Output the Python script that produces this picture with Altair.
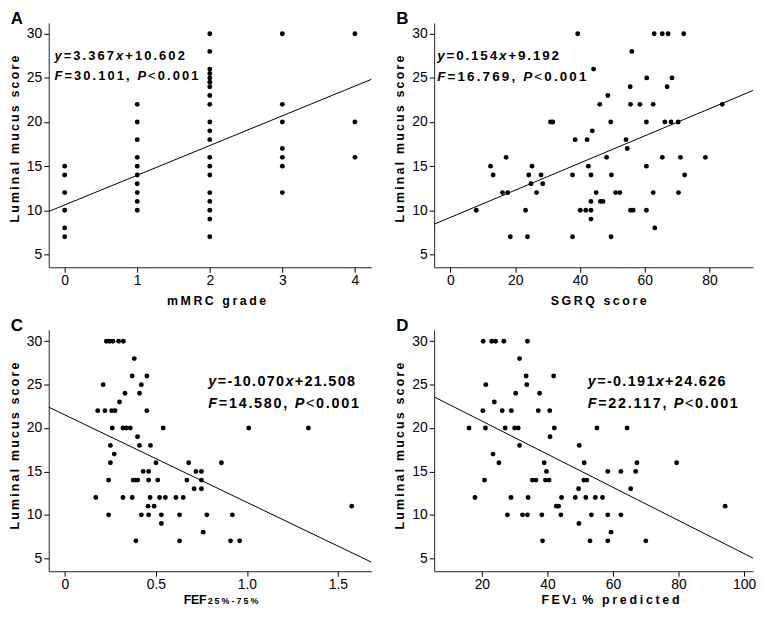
import altair as alt
import pandas as pd

FONT = "Liberation Sans"

# ---------------- data ----------------
# Panel A: luminal mucus score for each mMRC grade
mmrc_grades = [0, 1, 2, 3, 4]
mmrc_scores = [
    [15, 14, 12, 10, 8, 7],
    [22, 20, 18, 16, 15, 14, 13, 12, 11, 10],
    [30, 28, 26, 25.5, 25, 24.5, 24, 23, 22, 20, 19, 18, 16, 15, 14, 12, 11, 10, 9, 7],
    [30, 22, 20, 17, 16, 15, 12],
    [30, 20, 16],
]

# Luminal mucus score levels used by panels B, C and D
mucus_levels = [30, 28, 26, 25, 24, 23, 22, 20, 19, 18, 17, 16, 15, 14, 13, 12, 11, 10, 9, 8, 7]

# Panel B: SGRQ score values at each mucus level
sgrq_values = [
    [39.3, 62.9, 65.4, 67.2, 72.0],
    [56.0],
    [44.2],
    [60.6, 68.4],
    [55.5, 66.9],
    [48.6],
    [46.1, 55.6, 58.5, 62.6, 83.9],
    [30.9, 31.6, 49.5, 60.5, 66.2, 68.1, 70.3],
    [43.8],
    [38.5, 42.2, 54.2],
    [54.6],
    [17.2, 48.2, 65.4, 71.0, 78.7],
    [12.4, 25.2, 42.6, 60.5],
    [13.2, 24.2, 28.0, 37.7, 43.4, 49.7, 72.3],
    [24.9, 28.5],
    [16.1, 17.7, 26.6, 45.0, 51.0, 52.3, 62.6, 70.4],
    [43.4, 46.3, 47.1],
    [8.0, 23.2, 40.1, 41.8, 43.4, 55.6, 56.4, 60.5],
    [43.4],
    [63.1],
    [18.5, 23.8, 37.7, 49.6],
]

# Panel C: FEF25%-75% values at each mucus level
fef_values = [
    [0.228, 0.246, 0.264, 0.295, 0.321],
    [0.381],
    [0.37, 0.45],
    [0.21, 0.42],
    [0.33, 0.41],
    [0.30],
    [0.18, 0.22, 0.257, 0.275, 0.45],
    [0.26, 0.319, 0.337, 0.359, 0.54, 1.01, 1.338],
    [0.399],
    [0.25, 0.41, 0.47],
    [0.271],
    [0.25, 0.50, 0.68, 0.86],
    [0.43, 0.46, 0.72, 0.75],
    [0.24, 0.375, 0.388, 0.40, 0.46, 0.51, 0.67, 0.75],
    [0.71, 0.75],
    [0.17, 0.319, 0.37, 0.468, 0.52, 0.552, 0.61, 0.65],
    [0.457, 0.49, 1.576],
    [0.24, 0.42, 0.46, 0.53, 0.63, 0.78, 0.92],
    [0.53],
    [0.76],
    [0.39, 0.63, 0.91, 0.96],
]

# Panel D: FEV1 % predicted values at each mucus level
fev_values = [
    [20.4, 23.0, 24.2, 26.7, 33.9],
    [31.5],
    [33.5, 41.9],
    [21.2, 33.7],
    [30.3, 37.6],
    [23.8],
    [20.3, 26.2, 29.0, 37.2, 40.7],
    [16.1, 21.1, 27.1, 30.0, 31.1, 42.1, 55.1, 64.3],
    [40.8],
    [31.5, 49.7],
    [23.4],
    [25.2, 39.0, 51.2, 67.3, 79.4],
    [39.7, 58.4, 62.4, 66.9],
    [20.8, 35.4, 36.5, 39.4, 40.5, 51.1, 52.0],
    [49.5, 65.4],
    [17.9, 28.9, 34.1, 44.3, 48.5, 51.7, 54.6, 56.8],
    [42.7, 43.4, 94.2],
    [27.8, 32.4, 33.9, 38.3, 44.1, 53.4, 58.4, 62.4],
    [49.6],
    [59.4],
    [38.5, 53.0, 58.4, 70.0],
]

# regression equations shown in the panels (slope, intercept)
fit_A = (3.367, 10.602)
fit_B = (0.154, 9.192)
fit_C = (-10.070, 21.508)
fit_D = (-0.191, 24.626)

eq_A = [("y", "bi"), ("=3.367", "b"), ("x", "bi"), ("+10.602", "b")]
st_A = [("F", "bi"), ("=30.101, ", "b"), ("P", "bi"), ("<", "n"), ("0.001", "b")]
eq_B = [("y", "bi"), ("=0.154", "b"), ("x", "bi"), ("+9.192", "b")]
st_B = [("F", "bi"), ("=16.769, ", "b"), ("P", "bi"), ("<", "n"), ("0.001", "b")]
eq_C = [("y", "bi"), ("=-10.070", "b"), ("x", "bi"), ("+21.508", "b")]
st_C = [("F", "bi"), ("=14.580, ", "b"), ("P", "bi"), ("<", "n"), ("0.001", "b")]
eq_D = [("y", "bi"), ("=-0.191", "b"), ("x", "bi"), ("+24.626", "b")]
st_D = [("F", "bi"), ("=22.117, ", "b"), ("P", "bi"), ("<", "n"), ("0.001", "b")]

y_title = "Luminal mucus score"
y_ticks = [5, 10, 15, 20, 25, 30]

# ---------------- text helpers ----------------
AW = {str(d): 556 for d in range(10)}
AW.update({".": 278, ",": 278, " ": 278, "=": 584, "+": 584, "-": 333, "<": 584,
           "%": 889, "y": 556, "x": 556, "F": 611, "P": 667, "L": 611, "u": 611,
           "m": 889, "i": 278, "n": 611, "a": 556, "l": 278, "c": 556, "s": 556,
           "o": 611, "r": 389, "e": 556, "M": 833, "R": 722, "C": 722, "g": 611,
           "d": 611, "S": 667, "G": 778, "Q": 778, "E": 667, "V": 667, "p": 611,
           "t": 333})


def line_chars(segs, fs, start, end):
    """Spread characters of styled segments between start and end (pixels)."""
    items = [(c, st, AW.get(c, 556) * fs / 1000.0) for txt, st in segs for c in txt]
    nat = sum(w for _, _, w in items)
    if len(items) > 1:
        ls = (end - start - nat) / (len(items) - 1)
        pos = start
    else:
        ls = 0
        pos = (start + end) / 2 - items[0][2] / 2
    out = []
    for c, st, w in items:
        if c != " ":
            out.append((c, st, pos + w / 2))
        pos += w + ls
    return out


def rows_df(levels, values):
    xs, ys = [], []
    for lv, vals in zip(levels, values):
        for v in vals:
            xs.append(v)
            ys.append(lv)
    return pd.DataFrame({"x": xs, "y": ys})


def make_panel(df, xdom, ydom, W, H, xticks, fit, letter, ann, xtitle, label_expr):
    xs = alt.Scale(domain=xdom, nice=False, zero=False)
    ys = alt.Scale(domain=ydom, nice=False, zero=False)

    def px2x(px):
        return xdom[0] + px / W * (xdom[1] - xdom[0])

    def py2y(py):
        return ydom[1] - py / H * (ydom[1] - ydom[0])

    xaxis = alt.Axis(values=xticks, title=None, labelPadding=1, labelFlush=False,
                     labelOverlap=False, labelExpr=label_expr)
    yaxis = alt.Axis(values=y_ticks, title=None, labelPadding=2, labelFlush=False,
                     labelOverlap=False, format="d")

    pts = alt.Chart(df).mark_circle(size=24, color="black", opacity=1).encode(
        x=alt.X("x:Q", scale=xs, axis=xaxis),
        y=alt.Y("y:Q", scale=ys, axis=yaxis),
    )
    ldf = pd.DataFrame({"x": list(xdom), "y": [fit[0] * v + fit[1] for v in xdom]})
    line = alt.Chart(ldf).mark_line(color="black", strokeWidth=1, clip=True).encode(
        x=alt.X("x:Q", scale=xs, title=None),
        y=alt.Y("y:Q", scale=ys, title=None),
    )

    rows = []
    # annotation lines (centre-baseline)
    fs, lines = ann
    for segs, x0, x1, cy in lines:
        for c, st, cx in line_chars(segs, fs, x0, x1):
            rows.append(dict(ch=c, style=st, fs=fs, px=cx, py=cy, base="middle", angle=0))
    # x title (alphabetic baseline)
    tb, parts = xtitle
    for txt, tfs, x0, x1 in parts:
        for c, st, cx in line_chars([(txt, "b")], tfs, x0, x1):
            rows.append(dict(ch=c, style=st, fs=tfs, px=cx, py=H + tb, base="alphabetic", angle=0))
    # y title (rotated)
    ybot, ytop, yx = 201, 33, -34
    for c, st, cc in line_chars([(y_title, "b")], 12.5, 0, ybot - ytop):
        rows.append(dict(ch=c, style=st, fs=12.5, px=yx, py=ybot - cc, base="middle", angle=270))

    tdf = pd.DataFrame(rows)
    tdf["x"] = tdf["px"].apply(px2x)
    tdf["y"] = tdf["py"].apply(py2y)

    layers = [pts, line]
    for (st, base, ang), g in tdf.groupby(["style", "base", "angle"]):
        mk = alt.Chart(g.drop(columns=["style", "base"])).mark_text(
            font=FONT,
            fontWeight="normal" if st == "n" else "bold",
            fontStyle="italic" if st == "bi" else "normal",
            align="center", baseline=base, angle=int(ang), color="black",
        ).encode(
            x=alt.X("x:Q", scale=xs, title=None),
            y=alt.Y("y:Q", scale=ys, title=None),
            text="ch:N",
            size=alt.Size("fs:Q", scale=None),
        )
        layers.append(mk)

    lt = alt.Chart(pd.DataFrame({"t": [letter]})).mark_text(
        font=FONT, fontWeight="bold", fontSize=17, align="center", baseline="middle",
        color="black",
    ).encode(text="t:N", x=alt.value(-32), y=alt.value(-4))
    layers.append(lt)

    return alt.layer(*layers).properties(width=W, height=H)


H_TOP = 246
H_BOT = 243
ydom_top = [3.54, 31.23]
ydom_bot = [3.5, 31.31]

dfA = pd.DataFrame({
    "x": [g for g, sc in zip(mmrc_grades, mmrc_scores) for _ in sc],
    "y": [s for sc in mmrc_scores for s in sc],
})
dfB = rows_df(mucus_levels, sgrq_values)
dfC = rows_df(mucus_levels, fef_values)
dfD = rows_df(mucus_levels, fev_values)

INT_LABEL = "format(datum.value, 'd')"

pA = make_panel(
    dfA, [-0.22, 4.23], ydom_top, 325, H_TOP, [0, 1, 2, 3, 4], fit_A, "A",
    (13, [(eq_A, 5.7, 137, 33.4), (st_A, 5.7, 150.7, 53.5)]),
    (38, [("mMRC grade", 12.5, 119, 219)]),
    INT_LABEL,
)
pB = make_panel(
    dfB, [-5.0, 93.4], ydom_top, 321, H_TOP, [0, 20, 40, 60, 80], fit_B, "B",
    (13.5, [(eq_B, 3, 125.7, 33.3), (st_B, 3, 153.3, 54)]),
    (38, [("SGRQ score", 12.5, 117.3, 214)]),
    INT_LABEL,
)
pC = make_panel(
    dfC, [-0.089, 1.685], ydom_bot, 325, H_BOT, [0, 0.5, 1.0, 1.5], fit_C, "C",
    (14.5, [(eq_C, 160.7, 308.3, 52.7), (st_C, 160.7, 312.3, 74.3)]),
    (33, [("FEF", 12.5, 136, 159), ("25%-75%", 9, 160, 211)]),
    "datum.value == 0 ? '0' : format(datum.value, '.1f')",
)
pD = make_panel(
    dfD, [5.45, 102.7], ydom_bot, 321, H_BOT, [20, 40, 60, 80, 100], fit_D, "D",
    (14.5, [(eq_D, 154.7, 293.3, 52.7), (st_D, 154.7, 305.7, 74.3)]),
    (33, [("FEV", 12.5, 108, 137.3), ("1", 8.5, 138.3, 143.3), ("% predicted", 12.5, 149, 247)]),
    INT_LABEL,
)

chart = alt.concat(
    pA, pB, pC, pD, columns=2, spacing={"row": 63, "column": 63},
    bounds="flush", align="each",
).properties(padding=0).configure_view(stroke=None).configure_axis(
    labelFont=FONT, labelFontSize=14, labelColor="black", tickColor="black",
    domainColor="#222222", domainWidth=1, tickSize=5, grid=False,
)

chart.save("out.html", embed_options={"renderer": "svg", "actions": False})
